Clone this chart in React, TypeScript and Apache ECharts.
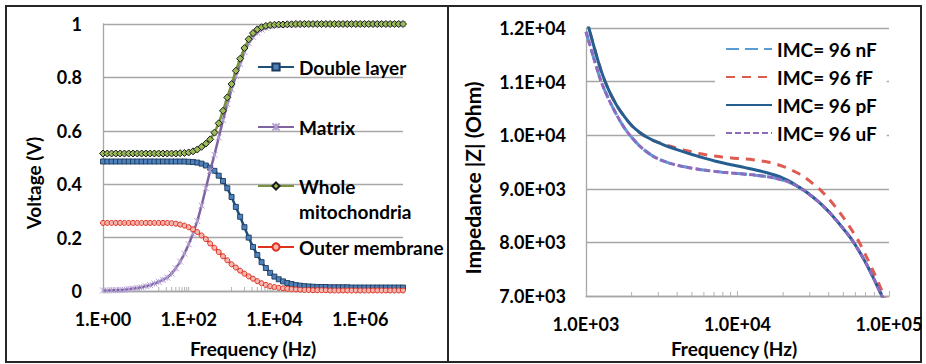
import React, { useEffect, useRef } from "react";
import * as echarts from "echarts";

const FONT = "Lato";

// ---------- Left chart data ----------
const leftFreq = [
  1, 1.259, 1.585, 1.995, 2.512, 3.162, 3.981, 5.012, 6.31, 7.943,
  10, 12.59, 15.85, 19.95, 25.12, 31.62, 39.81, 50.12, 63.1, 79.43,
  100, 125.9, 158.5, 199.5, 251.2, 316.2, 398.1, 501.2, 631, 794.3,
  1000, 1259, 1585, 1995, 2512, 3162, 3981, 5012, 6310, 7943,
  10000, 12589, 15849, 19953, 25119, 31623, 39811, 50119, 63096, 79433,
  100000, 125893, 158489, 199526, 251189, 316228, 398107, 501187, 630957, 794328,
  1000000, 1258925, 1584893, 1995262, 2511886, 3162278, 3981072, 5011872, 6309573, 7943282,
  10000000,
];

const doubleLayer = [
  0.485, 0.485, 0.485, 0.485, 0.485, 0.485, 0.485, 0.485, 0.485, 0.485,
  0.485, 0.485, 0.485, 0.485, 0.485, 0.485, 0.485, 0.485, 0.485, 0.485,
  0.484, 0.483, 0.481, 0.477, 0.47, 0.462, 0.45, 0.432, 0.412, 0.385,
  0.352, 0.315, 0.278, 0.239, 0.2, 0.165, 0.135, 0.108, 0.086, 0.068,
  0.054, 0.044, 0.036, 0.03, 0.026, 0.022, 0.02, 0.018, 0.017, 0.016,
  0.015, 0.015, 0.015, 0.014, 0.014, 0.014, 0.014, 0.014, 0.013, 0.013,
  0.013, 0.013, 0.013, 0.013, 0.013, 0.013, 0.013, 0.013, 0.013, 0.013,
  0.013,
];

const matrix = [
  0.002, 0.002, 0.003, 0.003, 0.004, 0.005, 0.007, 0.009, 0.011, 0.014,
  0.018, 0.022, 0.028, 0.034, 0.042, 0.05, 0.065, 0.085, 0.11, 0.14,
  0.175, 0.215, 0.262, 0.32, 0.385, 0.45, 0.51, 0.575, 0.64, 0.7,
  0.755, 0.805, 0.85, 0.895, 0.928, 0.952, 0.968, 0.979, 0.986, 0.991,
  0.994, 0.996, 0.997, 0.998, 0.998, 0.999, 0.999, 0.999, 1, 1,
  1, 1, 1, 1, 1, 1, 1, 1, 1, 1,
  1, 1, 1, 1, 1, 1, 1, 1, 1, 1,
  1,
];

const wholeMito = [
  0.515, 0.515, 0.515, 0.515, 0.515, 0.515, 0.515, 0.515, 0.515, 0.515,
  0.515, 0.515, 0.515, 0.515, 0.515, 0.515, 0.515, 0.515, 0.516, 0.517,
  0.519, 0.523, 0.53, 0.54, 0.552, 0.568, 0.593, 0.628, 0.675, 0.725,
  0.775, 0.825, 0.87, 0.91, 0.943, 0.966, 0.98, 0.988, 0.993, 0.996,
  0.997, 0.998, 0.998, 0.999, 0.999, 1, 1, 1, 1, 1,
  1, 1, 1, 1, 1, 1, 1, 1, 1, 1,
  1, 1, 1, 1, 1, 1, 1, 1, 1, 1,
  1,
];

const outerMembrane = [
  0.255, 0.255, 0.255, 0.255, 0.255, 0.255, 0.255, 0.255, 0.255, 0.255,
  0.255, 0.255, 0.255, 0.255, 0.255, 0.255, 0.254, 0.252, 0.249, 0.245,
  0.239, 0.231, 0.221, 0.208, 0.194, 0.178, 0.162, 0.146, 0.13, 0.115,
  0.1, 0.088, 0.076, 0.065, 0.055, 0.046, 0.037, 0.029, 0.023, 0.018,
  0.015, 0.012, 0.01, 0.008, 0.007, 0.006, 0.005, 0.004, 0.004, 0.003,
  0.003, 0.003, 0.003, 0.002, 0.002, 0.002, 0.002, 0.002, 0.002, 0.002,
  0.002, 0.002, 0.002, 0.002, 0.002, 0.002, 0.002, 0.002, 0.002, 0.002,
  0.002,
];

const leftMinorTicks = [20, 30, 40, 50, 60, 70, 80, 90, 100, 1000, 2000, 3000, 4000, 5000, 6000, 7000, 8000, 9000];

// ---------- Right chart data ----------
const rightFreq = [
  1000, 1122, 1259, 1413, 1585, 1778, 1995, 2239, 2512, 2818,
  3162, 3548, 3981, 4467, 5012, 5623, 6310, 7079, 7943, 8913,
  10000, 11220, 12589, 14125, 15849, 17783, 19953, 22387, 25119, 28184,
  31623, 35481, 39811, 44668, 50119, 56234, 63096, 70795, 79433, 89125,
  100000,
];

const imcNF = [
  11930, 11450, 11000, 10670, 10390, 10150, 9965, 9810, 9690, 9595,
  9530, 9480, 9440, 9410, 9385, 9362, 9342, 9325, 9310, 9297,
  9285, 9273, 9260, 9245, 9225, 9197, 9160, 9110, 9040, 8950,
  8840, 8720, 8580, 8420, 8250, 8070, 7850, 7600, 7320, 7020,
  6700,
];

const imcFF = [
  12200, 11680, 11200, 10840, 10570, 10360, 10185, 10060, 9965, 9893,
  9845, 9800, 9760, 9722, 9688, 9658, 9632, 9610, 9592, 9578,
  9566, 9555, 9542, 9524, 9500, 9465, 9420, 9360, 9290, 9200,
  9090, 8970, 8820, 8650, 8460, 8250, 8020, 7740, 7440, 7120,
  6800,
];

const imcPF = [
  12200, 11680, 11200, 10840, 10570, 10360, 10185, 10060, 9965, 9893,
  9835, 9780, 9730, 9684, 9640, 9598, 9558, 9520, 9485, 9455,
  9425, 9395, 9365, 9332, 9295, 9252, 9200, 9130, 9040, 8950,
  8840, 8720, 8580, 8420, 8250, 8070, 7850, 7600, 7320, 7020,
  6700,
];

const imcUF = [
  11930, 11450, 11000, 10670, 10390, 10150, 9965, 9810, 9690, 9595,
  9530, 9480, 9440, 9410, 9385, 9362, 9342, 9325, 9310, 9297,
  9285, 9273, 9260, 9245, 9225, 9197, 9160, 9110, 9040, 8950,
  8840, 8720, 8580, 8420, 8250, 8070, 7850, 7600, 7320, 7020,
  6700,
];

const rightMinorTicks = [
  2000, 3000, 4000, 5000, 6000, 7000, 8000, 9000,
  20000, 30000, 40000, 50000, 60000, 70000, 80000, 90000,
];

const pad2 = (n: number) => (n < 10 ? "0" + n : String(n));

const tickText = {
  fontFamily: FONT,
  fontWeight: "bold" as const,
  fontSize: 18,
  color: "#000",
  lineHeight: 18,
};

const legendText = {
  fontFamily: FONT,
  fontWeight: "bold" as const,
  fontSize: 19,
  color: "#000",
  lineHeight: 20,
};

const gridColor = "#a6a6a6";

function minorTickSeries(ticks: number[], yMin: number, xAxisIndex: number, yAxisIndex: number) {
  return {
    type: "custom",
    xAxisIndex,
    yAxisIndex,
    silent: true,
    z: 1,
    data: ticks.map((t) => [t, yMin]),
    renderItem: (_params: any, api: any) => {
      const p = api.coord([api.value(0), api.value(1)]);
      return {
        type: "line",
        shape: { x1: p[0], y1: p[1], x2: p[0], y2: p[1] - 4 },
        style: { stroke: "#b3b3b3", lineWidth: 1 },
      };
    },
  };
}

export default function App() {
  const ref = useRef<HTMLDivElement>(null);

  useEffect(() => {
    if (!ref.current) return;
    const chart = echarts.init(ref.current, undefined, { renderer: "svg" });

    const zipL = (arr: number[]) => leftFreq.map((f, i) => [f, arr[i]]);
    const zipR = (arr: number[]) => rightFreq.map((f, i) => [f, arr[i]]);

    const leftLegend = (name: string, top: number, extra: any = {}, formatter?: any) => ({
      data: [name],
      orient: "vertical",
      left: 257,
      top,
      padding: 0,
      itemWidth: 36,
      itemHeight: 9,
      itemGap: 0,
      selectedMode: false,
      textStyle: { ...legendText, ...extra },
      ...(formatter ? { formatter } : {}),
    });

    const rightLine = (name: string, arr: number[], color: string, type: any, z: number) => ({
      name,
      type: "line",
      xAxisIndex: 1,
      yAxisIndex: 1,
      data: zipR(arr),
      symbol: "none",
      smooth: 0.3,
      lineStyle: { color, width: 3, type },
      itemStyle: { color },
      silent: true,
      z,
    });

    const option: any = {
      animation: false,
      backgroundColor: "#fff",
      grid: [
        { left: 103, top: 24, width: 300, height: 267 },
        { left: 586, top: 28, width: 303, height: 268 },
      ],
      xAxis: [
        {
          gridIndex: 0,
          type: "log",
          logBase: 10,
          min: 1,
          max: 10000000,
          interval: 2,
          axisLine: { show: true, lineStyle: { color: gridColor, width: 1.3 } },
          axisTick: { show: false },
          splitLine: { show: false },
          axisLabel: {
            ...tickText,
            margin: 19,
            showMaxLabel: false,
            formatter: (v: number) => {
              const e = Math.round(Math.log10(v));
              return e % 2 === 0 ? "1.E+" + pad2(e) : "";
            },
          },
        },
        {
          gridIndex: 1,
          type: "log",
          logBase: 10,
          min: 1000,
          max: 100000,
          interval: 1,
          axisLine: { show: true, lineStyle: { color: gridColor, width: 1.3 } },
          axisTick: { show: true, inside: true, length: 5, lineStyle: { color: "#b3b3b3" } },
          splitLine: { show: false },
          axisLabel: {
            ...tickText,
            margin: 19,
            formatter: (v: number) => {
              const e = Math.round(Math.log10(v));
              return "1.0E+" + pad2(e);
            },
          },
        },
      ],
      yAxis: [
        {
          gridIndex: 0,
          type: "value",
          min: 0,
          max: 1,
          interval: 0.2,
          axisLine: { show: true, lineStyle: { color: gridColor, width: 1.3 } },
          axisTick: { show: false },
          splitLine: { show: true, lineStyle: { color: gridColor, width: 1.3 } },
          axisLabel: { ...tickText, margin: 21 },
        },
        {
          gridIndex: 1,
          type: "value",
          min: 7000,
          max: 12000,
          interval: 1000,
          axisLine: { show: true, lineStyle: { color: gridColor, width: 1.3 } },
          axisTick: { show: false },
          splitLine: { show: true, lineStyle: { color: gridColor, width: 1.3 } },
          axisLabel: {
            ...tickText,
            margin: 20,
            formatter: (v: number) => {
              const e = Math.floor(Math.log10(v) + 1e-9);
              const m = v / Math.pow(10, e);
              return m.toFixed(1) + "E+" + pad2(e);
            },
          },
        },
      ],
      legend: [
        leftLegend("Double layer", 57),
        leftLegend("Matrix", 117),
        leftLegend("Whole mitochondria", 148.5, { lineHeight: 25 }, () => "\nWhole\nmitochondria"),
        leftLegend("Outer membrane", 237),
        {
          data: ["IMC= 96 nF", "IMC= 96 fF", "IMC= 96 pF", "IMC= 96 uF"],
          orient: "vertical",
          left: 715,
          top: 33,
          padding: [6, 10, 6, 10],
          backgroundColor: "#fff",
          itemWidth: 46,
          itemHeight: 12,
          itemGap: 8,
          selectedMode: false,
          itemStyle: { opacity: 0 },
          textStyle: legendText,
        },
      ],
      series: [
        {
          name: "Double layer",
          type: "line",
          xAxisIndex: 0,
          yAxisIndex: 0,
          data: zipL(doubleLayer),
          symbol: "rect",
          symbolSize: 5,
          lineStyle: { color: "#1F4E79", width: 2.5 },
          itemStyle: { color: "#4F81BD", borderColor: "#1B3A5C", borderWidth: 0.9 },
          silent: true,
          z: 2,
        },
        {
          name: "Matrix",
          type: "line",
          xAxisIndex: 0,
          yAxisIndex: 0,
          data: zipL(matrix),
          symbol: "path://M0,0L10,10M10,0L0,10M5,0L5,10",
          symbolSize: 6,
          lineStyle: { color: "#8064A2", width: 2.5 },
          itemStyle: { color: "#B9A8D6", borderColor: "#B3A0D4", borderWidth: 1 },
          silent: true,
          z: 3,
        },
        {
          name: "Whole mitochondria",
          type: "line",
          xAxisIndex: 0,
          yAxisIndex: 0,
          data: zipL(wholeMito),
          symbol: "diamond",
          symbolSize: 7,
          lineStyle: { color: "#77933C", width: 2.5 },
          itemStyle: { color: "#9BBB59", borderColor: "#1a1a1a", borderWidth: 1 },
          silent: true,
          z: 4,
        },
        {
          name: "Outer membrane",
          type: "line",
          xAxisIndex: 0,
          yAxisIndex: 0,
          data: zipL(outerMembrane),
          symbol: "circle",
          symbolSize: 5,
          lineStyle: { color: "#E0301E", width: 2 },
          itemStyle: { color: "#F4B6B0", borderColor: "#E0301E", borderWidth: 1 },
          silent: true,
          z: 5,
        },
        minorTickSeries(leftMinorTicks, 0, 0, 0),
        rightLine("IMC= 96 nF", imcNF, "#5B9BD5", [13, 6], 2),
        rightLine("IMC= 96 fF", imcFF, "#DE5B52", [9, 7], 3),
        rightLine("IMC= 96 pF", imcPF, "#255E91", "solid", 4),
        rightLine("IMC= 96 uF", imcUF, "#8E6BBF", [6, 3], 5),
        minorTickSeries(rightMinorTicks, 7000, 1, 1),
      ],
      graphic: [
        { type: "rect", shape: { x: 6, y: 6, width: 442, height: 356 }, style: { fill: "none", stroke: "#262626", lineWidth: 2 }, silent: true },
        { type: "rect", shape: { x: 448, y: 6, width: 473, height: 356 }, style: { fill: "none", stroke: "#262626", lineWidth: 2 }, silent: true },
        {
          type: "text", x: 33, y: 183, rotation: Math.PI / 2, silent: true,
          style: { text: "Voltage (V)", font: `bold 19px ${FONT}`, fill: "#000", align: "center", verticalAlign: "middle" },
        },
        {
          type: "text", x: 472, y: 178, rotation: Math.PI / 2, silent: true,
          style: { text: "Impedance |Z| (Ohm)", font: `bold 21px ${FONT}`, fill: "#000", align: "center", verticalAlign: "middle" },
        },
        {
          type: "text", x: 253, y: 348, silent: true,
          style: { text: "Frequency (Hz)", font: `bold 19px ${FONT}`, fill: "#000", align: "center", verticalAlign: "middle" },
        },
        {
          type: "text", x: 734, y: 348, silent: true,
          style: { text: "Frequency (Hz)", font: `bold 19px ${FONT}`, fill: "#000", align: "center", verticalAlign: "middle" },
        },
      ],
    };

    chart.setOption(option);
    return () => chart.dispose();
  }, []);

  return (
    <div
      ref={ref}
      style={{ position: "absolute", left: 0, top: 0, width: 926, height: 364, background: "#fff" }}
    />
  );
}
